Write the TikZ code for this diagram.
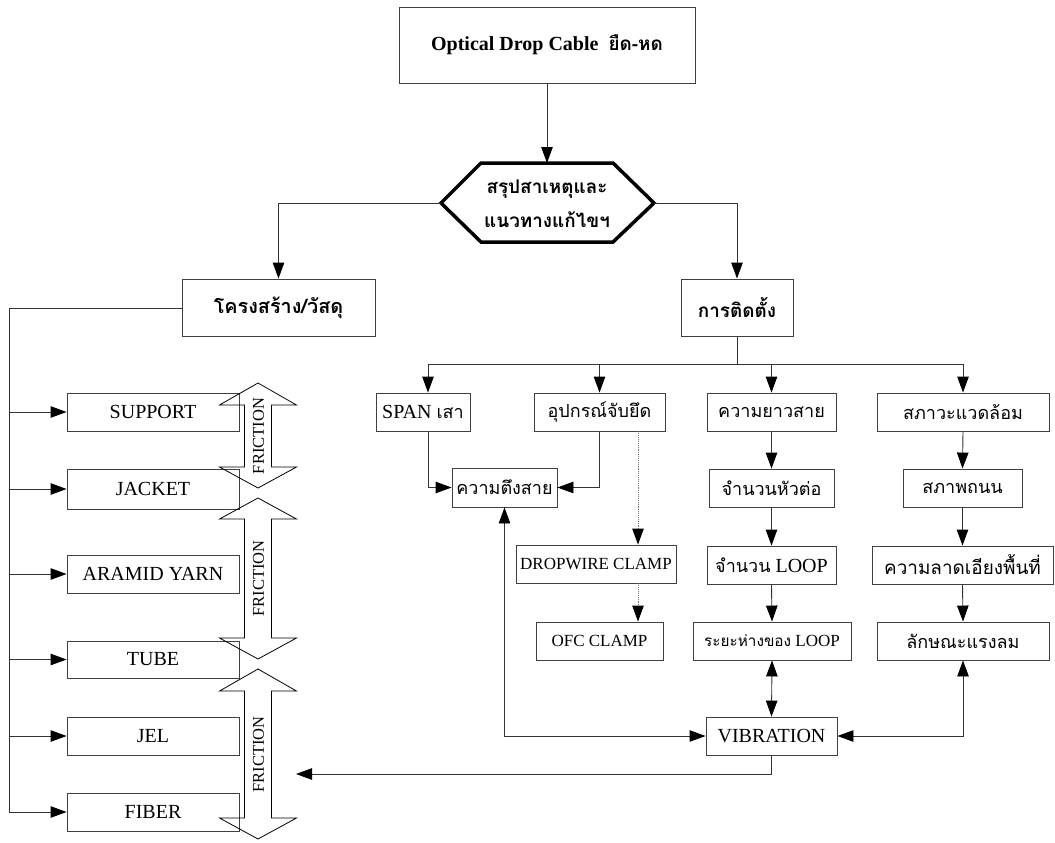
\documentclass[tikz,border=0pt]{standalone}
\usepackage{fontspec}
\setmainfont{Liberation Serif}
\newfontfamily\thf[Script=Thai,Scale=0.9]{Loma}
\usetikzlibrary{arrows.meta}
\tikzset{
  tip/.style={-{Triangle[length=16pt,width=11.5pt,color=black]}},
  box/.style={draw=black!75, line width=0.9pt, inner sep=0pt, align=center, font=\fontsize{20}{22}\selectfont},
  sbox/.style={box, font=\fontsize{17}{19}\selectfont},
  ln/.style={draw=black!80, line width=0.9pt},
  conn/.style={ln, -{Triangle[length=16pt,width=11.5pt,color=black]}},
  conn2/.style={ln, {Triangle[length=16pt,width=11.5pt,color=black]}-{Triangle[length=16pt,width=11.5pt,color=black]}},
  dconn/.style={draw=black!55, line width=0.9pt, densely dotted, -{Triangle[length=16pt,width=11.5pt,color=black]}},
  blk/.style={draw=black, line width=0.8pt, line join=miter},
  fr/.style={rotate=90, inner sep=0pt, font=\fontsize{16.5}{19}\selectfont},
}
\newcommand\bx[7][box]{\node[#1,minimum width={(#5-#3)*1pt},minimum height={(#6-#4)*1pt}] (#2) at ({(#3+#5)/2},{(#4+#6)/2}) {#7};}
\newcommand\fric[5]{%
  \draw[blk] (258,#1) -- (296.5,#2) -- (271.5,#2) -- (271.5,#3) -- (296.5,#3) -- (258,#4) -- (219.5,#3) -- (244.5,#3) -- (244.5,#2) -- (219.5,#2) -- cycle;
  \node[fr] (#5) at (258.5,{(#2+#3)/2}) {FRICTION};}
\begin{document}
\begin{tikzpicture}[x=1pt,y=-1pt]
\useasboundingbox (0,0) rectangle (1055,843);
% top
\bx{top}{399}{7}{695}{83}{\bfseries Optical Drop Cable\ \ {\fontsize{21}{22}\selectfont\thf ยืด-หด}}
% hexagon
\coordinate (hexL) at (441,203);
\coordinate (hexR) at (654,203);
\coordinate (hexT) at (547,163);
\draw[line width=3.5pt, line join=miter] (hexL) -- (481,163) -- (613,163) -- (hexR) -- (613,242) -- (481,242) -- cycle;
\node[align=center, font=\fontsize{21}{34}\selectfont\thf\bfseries] (hex) at (547,204) {สรุปสาเหตุและ\\แนวทางแก้ไขฯ};
% level 2
\bx{struct}{182}{279}{375}{336}{\fontsize{22}{24}\selectfont\thf\bfseries โครงสร้าง/วัสดุ}
\bx{install}{681}{279}{793}{336}{\fontsize{21}{24}\selectfont\thf\bfseries การติดตั้ง}
% left column
\bx{support}{67}{393}{239}{431}{SUPPORT}
\bx{jacket}{67}{469}{239}{509}{JACKET}
\bx{aramid}{67}{555}{239}{593}{ARAMID YARN}
\bx{tube}{67}{641}{239}{678}{TUBE}
\bx{jel}{67}{717}{239}{755}{JEL}
\bx{fiber}{67}{793}{239}{831}{FIBER}
% friction arrows
\fric{383}{405}{467}{488}{f1}
\fric{498}{519}{638}{659}{f2}
\fric{669}{691}{818}{839}{f3}
% right side
\bx{span}{376}{393}{470}{431}{SPAN {\thf เสา}}
\bx{equip}{534}{393}{665}{431}{\thf อุปกรณ์จับยึด}
\bx{tension}{452}{468}{557}{507}{\thf ความตึงสาย}
\bx[sbox]{dropwire}{516}{545}{676}{583}{DROPWIRE CLAMP}
\bx[sbox]{ofc}{536}{622}{663}{660}{OFC CLAMP}
\bx{length}{707}{393}{836}{431}{\thf ความยาวสาย}
\bx{joints}{709}{469}{834}{507}{\thf จำนวนหัวต่อ}
\bx{loopnum}{707}{546}{836}{584}{{\thf จำนวน} LOOP}
\bx[sbox]{loopdist}{693}{622}{851}{660}{{\thf ระยะห่างของ} LOOP}
\bx{vib}{706}{717}{837}{755}{VIBRATION}
\bx{env}{877}{393}{1049}{431}{\thf สภาวะแวดล้อม}
\bx{road}{903}{469}{1022}{507}{\thf สภาพถนน}
\bx{slope}{872}{546}{1053}{584}{\fontsize{21}{22}\selectfont\thf ความลาดเอียงพื้นที่}
\bx{wind}{877}{622}{1049}{660}{\thf ลักษณะแรงลม}
% connectors top
\draw[conn] (top.south) -- (hexT);
\draw[conn] (hexL) -| (struct.north);
\draw[conn] (hexR) -| (install.north);
% left spine
\coordinate (spT) at (9,308);
\coordinate (spB) at (9,812);
\draw[ln] (struct.west |- spT) -- (spT) -- (spB);
\foreach \n in {support,jacket,aramid,tube,jel,fiber}
  \draw[conn] (spT |- \n.west) -- (\n.west);
% install bus
\coordinate (busL) at (428,364);
\coordinate (busR) at (963,364);
\draw[ln] (install.south) -- (install.south |- busL);
\draw[ln] (busL) -- (busR);
\draw[conn] (busL) -- (busL |- span.north);
\draw[conn] (equip.north |- busL) -- (equip.north);
\draw[conn] (length.north |- busL) -- (length.north);
\draw[conn] (busR) -- (env.north);
\draw[conn] (busL |- span.south) |- (tension.west);
\draw[conn] (equip.south) |- (tension.east);
\coordinate (dx) at (638,500);
\draw[dconn] (dx |- equip.south) -- (dx |- dropwire.north);
\draw[dconn] (dx |- dropwire.south) -- (dx |- ofc.north);
\draw[conn] (length.south) -- (joints.north);
\draw[conn] (joints.south) -- (loopnum.north);
\draw[conn] (loopnum.south) -- (loopdist.north);
\draw[conn2] (loopdist.south) -- (vib.north);
\draw[conn] (env.south) -- (road.north);
\draw[conn] (road.south) -- (slope.north);
\draw[conn] (slope.south) -- (wind.north);
\draw[conn2] (tension.south) |- (vib.west);
\draw[conn2] (vib.east) -| (wind.south);
\coordinate (frx) at (296,774);
\draw[conn] (vib.south) |- (frx);
\end{tikzpicture}
\end{document}
